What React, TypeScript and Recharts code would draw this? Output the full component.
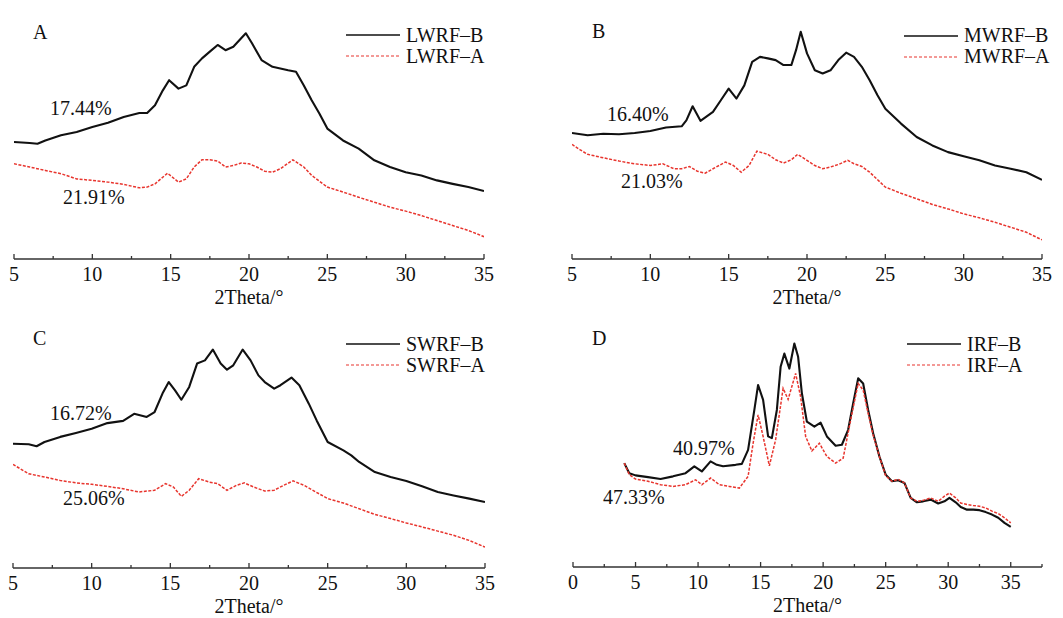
import { LineChart, Line, XAxis, YAxis, Legend } from "recharts"

// 2Theta (deg) vs relative intensity (0-100 of plot height)
const lwrfB = [[5,47.2],[6,46.8],[6.5,46.5],[7,47.8],[8,49.9],[9,51.2],[10,53.2],[11,54.9],[12,57.3],[13,58.9],[13.5,58.9],[14,62],[14.5,68],[14.9,72.1],[15.5,68.7],[16,70],[16.5,77.5],[17,80.9],[17.5,83.6],[18,86.3],[18.5,84.2],[19,85.6],[19.5,89],[19.8,91],[20.2,86.9],[20.8,80.2],[21.5,77.5],[22.5,76.1],[23,75.5],[23.5,70],[24,64],[24.5,58.6],[25,52.6],[26,47.8],[27,44.5],[28,39.8],[29,37.1],[30,35],[31,33.7],[32,31.7],[33,30.3],[34,29],[35,27.4]]
const lwrfA = [[5,38.4],[6,37.1],[7,35.7],[8,34.4],[9,32.3],[10,31.7],[11,31],[12,30.1],[13,28.7],[13.5,29],[14,30.3],[14.8,34.6],[15.5,31],[16,32.3],[16.5,37.1],[17,40],[17.5,40],[18,39.5],[18.5,37.1],[19,37.7],[19.5,38.7],[20,38.4],[20.5,37.1],[21,35.4],[21.5,35],[22,36.4],[22.8,40],[23.5,37.1],[24,33.7],[25,29],[26,27],[27,24.9],[28,22.9],[29,20.9],[30,19.3],[31,17.5],[32,15.5],[33,13.5],[34,11.5],[35,9]]

const mwrfB = [[5,50.8],[6,49.9],[7,50.5],[8,50.3],[9,50.8],[10,51.6],[11,53],[12,53.5],[12.3,55.9],[12.7,61.6],[13.2,55.7],[14,59.3],[14.5,64],[15,68.7],[15.5,64.7],[16,70],[16.5,79.5],[17,81.5],[17.5,80.9],[18,80.2],[18.5,78.2],[19,78.2],[19.3,84.2],[19.6,91.6],[20,82.9],[20.5,76.1],[21,74.8],[21.5,76.1],[22,80.2],[22.5,83.2],[23,81.5],[23.5,77.5],[24,72.1],[24.5,66],[25,60.6],[26,54.6],[27,49.2],[28,45.8],[29,43.1],[30,41.4],[31,39.8],[32,37.7],[33,36.4],[34,35],[35,31.9]]
const mwrfA = [[5,46.2],[5.5,44.1],[6,42.2],[7,40.8],[8,39.5],[9,38.4],[10,37.7],[10.8,38.4],[11.5,36.4],[12,36.4],[12.5,37.3],[13,35.4],[13.5,34.6],[14,36.4],[14.8,39.1],[15.3,37.7],[15.8,35],[16.3,37.7],[16.8,43.5],[17.5,42.2],[18,40],[18.5,38.7],[19,40],[19.4,42.2],[20,39.8],[20.5,37.7],[21,36.4],[21.5,37.1],[22,38.1],[22.6,39.8],[23,38.4],[23.5,37.3],[24,35],[25,29],[26,26.5],[27,24.3],[28,22],[29,20.2],[30,18.2],[31,16.6],[32,14.8],[33,12.8],[34,10.8],[35,7.7]]

const swrfB = [[5,50.5],[6,50.3],[6.5,49.5],[7,51.2],[8,53.3],[9,54.9],[10,56.6],[11,58.9],[12,59.8],[12.7,62.7],[13.5,61.4],[14,63.4],[14.5,70.9],[14.9,75.6],[15.3,72.2],[15.7,68.4],[16.2,73.6],[16.7,83.1],[17.2,84.4],[17.7,88.8],[18.2,83.1],[18.6,80.6],[19,82.4],[19.6,88.8],[20.1,84.4],[20.6,78.3],[21,75.6],[21.6,72.9],[22,74.3],[22.7,77.4],[23.2,74.3],[23.8,66.8],[24.3,60],[25,51.2],[26,47.8],[26.5,45.8],[27,43.1],[28,39],[29,37],[30,35.4],[31,33.2],[32,30.9],[33,29.5],[34,28.2],[35,26.8]]
const swrfA = [[5,42.1],[6,38.3],[7,37],[8,35.6],[9,34.6],[10,34],[11,33.2],[12,32.2],[13,30.9],[14,31.6],[14.7,34.3],[15.2,32.9],[15.7,29.1],[16.2,31.6],[16.8,36.3],[17.5,34.9],[18,34.3],[18.6,31.6],[19.2,33.6],[19.7,34.6],[20.3,32.9],[21,31.3],[21.6,31.6],[22.2,33.6],[22.8,35.4],[23.5,33.6],[24,31.8],[25,28.2],[26,26.4],[27,24.1],[28,21.8],[29,20.1],[30,18.3],[31,16.7],[32,15],[33,13.3],[34,11.2],[35,8.5]]

const irfB = [[4.1,42.4],[4.5,38.3],[5,37.4],[6,36.7],[7,35.9],[8,37],[9,38.3],[9.7,41.1],[10.3,39],[11,43.1],[11.5,41.7],[12,41.1],[13,41.7],[13.5,42.1],[14,47.8],[14.5,64.1],[14.8,74.3],[15.2,68.2],[15.6,53.3],[15.9,52.6],[16.3,64.1],[16.6,81.7],[16.9,87.1],[17.3,81],[17.7,91.2],[18,85.8],[18.3,70.9],[18.7,59.3],[19.3,57.3],[19.8,58.9],[20.3,53.3],[21,49.5],[21.5,49.9],[22,56],[22.4,66.8],[22.8,77],[23.2,74.9],[23.6,64.1],[24,54.6],[24.5,45.1],[25,37.7],[25.5,35],[26,35.4],[26.5,34.3],[27,28.2],[27.5,26.4],[28,26.8],[28.6,27.5],[29.2,25.9],[29.7,26.8],[30.1,28.2],[30.6,26.4],[31,24.5],[31.5,23.4],[32,23.4],[32.5,23.2],[33,22.4],[33.5,21.4],[34,20.1],[34.5,18],[35,16.4]]
const irfA = [[4.1,42.4],[4.5,37.7],[5,35.9],[6,35],[7,33.6],[8,32.9],[9,33.6],[9.8,35.6],[10.3,33.6],[11,36.3],[11.7,33.6],[12.5,32.9],[13.3,32.2],[14,37],[14.4,50.5],[14.8,62.1],[15.2,53.3],[15.7,41.3],[16.2,51.9],[16.8,72.9],[17.2,68.4],[17.8,79],[18.2,69.5],[18.6,53.3],[19.1,47.4],[19.7,50.5],[20.3,45.1],[21,42.4],[21.6,44.4],[22.2,60],[22.8,74.9],[23.2,72.2],[23.6,62.7],[24,53.8],[24.5,45.1],[25,37.3],[25.5,35],[26,35.8],[26.5,34.3],[27,28.2],[27.5,26.8],[28,27.2],[28.6,28.2],[29.2,26.8],[29.7,28.9],[30.1,30.2],[30.6,28.2],[31,26.1],[31.5,25.5],[32,25.1],[32.5,24.8],[33,24.1],[33.5,22.8],[34,21.8],[34.5,20.1],[35,18]]

const ticksFrom5 = [5, 7.5, 10, 12.5, 15, 17.5, 20, 22.5, 25, 27.5, 30, 32.5, 35]
const ticksFrom0 = [0, 2.5, 5, 7.5, 10, 12.5, 15, 17.5, 20, 22.5, 25, 27.5, 30, 32.5, 35, 37.5]

const FONT = "'Liberation Serif', 'Times New Roman', serif"
const AXIS = "#333"
const BLACK = "#111"
const RED = "#e8352e"

const toPoints = (arr: number[][]) => arr.map(([x, y]) => ({ x, y }))

const panels = [
  {
    key: "A", left: 0, top: 0, width: 530,
    margin: { top: 11, right: 46, bottom: 5, left: 14 },
    domain: [5, 35], ticks: ticksFrom5,
    names: ["LWRF–B", "LWRF–A"], series: [lwrfB, lwrfA],
    legend: { left: 346, top: 24.5 },
    notes: [["A", 33, 32], ["17.44%", 50, 108], ["21.91%", 63, 197]],
  },
  {
    key: "B", left: 530, top: 0, width: 533,
    margin: { top: 11, right: 21, bottom: 5, left: 42 },
    domain: [5, 35], ticks: ticksFrom5,
    names: ["MWRF–B", "MWRF–A"], series: [mwrfB, mwrfA],
    legend: { left: 374, top: 25 },
    notes: [["B", 62, 31], ["16.40%", 77, 114], ["21.03%", 91, 181]],
  },
  {
    key: "C", left: 0, top: 309, width: 530,
    margin: { top: 13, right: 45, bottom: 5, left: 13 },
    domain: [5, 35], ticks: ticksFrom5,
    names: ["SWRF–B", "SWRF–A"], series: [swrfB, swrfA],
    legend: { left: 346, top: 24.5 },
    notes: [["C", 33, 29], ["16.72%", 50, 104], ["25.06%", 63, 189]],
  },
  {
    key: "D", left: 530, top: 309, width: 533,
    margin: { top: 13, right: 21, bottom: 6, left: 43 },
    domain: [0, 37.5], ticks: ticksFrom0,
    names: ["IRF–B", "IRF–A"], series: [irfB, irfA],
    legend: { left: 377, top: 24.5 },
    notes: [["D", 62, 29], ["40.97%", 143, 139], ["47.33%", 73, 188]],
  },
]

function XTick(props: any) {
  const { x, y, payload } = props
  const major = payload.value % 5 === 0
  return (
    <g>
      <line x1={x} x2={x} y1={y} y2={y - (major ? 5 : 3)} stroke={AXIS} strokeWidth={1.3} />
      {major && (
        <text x={x} y={y + 22} textAnchor="middle" fontFamily={FONT} fontSize={20} fill={BLACK}>
          {payload.value}
        </text>
      )}
    </g>
  )
}

function LegendBox({ names }: { names: string[] }) {
  return (
    <div style={{ fontFamily: FONT, fontSize: 20, color: BLACK }}>
      {names.map((n, i) => (
        <div key={n} style={{ display: "flex", alignItems: "center", height: 21 }}>
          <svg width={54} height={4}>
            <line
              x1={0} x2={54} y1={2} y2={2}
              stroke={i === 0 ? BLACK : RED}
              strokeWidth={i === 0 ? 1.4 : 1.2}
              strokeDasharray={i === 0 ? undefined : "3 2"}
            />
          </svg>
          <span style={{ marginLeft: 6, lineHeight: "21px" }}>{n}</span>
        </div>
      ))}
    </div>
  )
}

function Panel({ p }: { p: (typeof panels)[number] }) {
  return (
    <div style={{ position: "absolute", left: p.left, top: p.top, width: p.width, height: 309 }}>
      <LineChart width={p.width} height={309} margin={p.margin}>
        <XAxis
          type="number"
          dataKey="x"
          domain={p.domain}
          ticks={p.ticks}
          interval={0}
          allowDataOverflow
          tickSize={0}
          tickMargin={0}
          tickLine={false}
          tick={<XTick />}
          height={45}
          axisLine={{ stroke: AXIS, strokeWidth: 1.5 }}
          label={{ value: "2Theta/°", position: "insideBottom", offset: 0, fontFamily: FONT, fontSize: 20, fill: BLACK }}
        />
        <YAxis
          type="number"
          domain={[0, 100]}
          width={0}
          tick={false}
          tickLine={false}
          axisLine={{ stroke: AXIS, strokeWidth: 1.5 }}
        />
        <Legend
          layout="vertical"
          align="center"
          verticalAlign="middle"
          wrapperStyle={{ left: p.legend.left, top: p.legend.top, width: "auto" }}
          content={() => <LegendBox names={p.names} />}
        />
        <Line
          data={toPoints(p.series[0])}
          dataKey="y"
          name={p.names[0]}
          type="linear"
          stroke={BLACK}
          strokeWidth={2.1}
          strokeLinejoin="round"
          dot={false}
          isAnimationActive={false}
        />
        <Line
          data={toPoints(p.series[1])}
          dataKey="y"
          name={p.names[1]}
          type="linear"
          stroke={RED}
          strokeWidth={1.5}
          strokeDasharray="3 1.5"
          dot={false}
          isAnimationActive={false}
        />
      </LineChart>
      {p.notes.map(([text, x, cy]) => (
        <div
          key={text as string}
          style={{
            position: "absolute",
            left: x as number,
            top: (cy as number) - 10,
            fontFamily: FONT,
            fontSize: 20,
            lineHeight: "20px",
            color: BLACK,
            whiteSpace: "nowrap",
            pointerEvents: "none",
          }}
        >
          {text}
        </div>
      ))}
    </div>
  )
}

export default function App() {
  return (
    <div style={{ position: "absolute", left: 0, top: 0, width: 1063, height: 618, background: "#fff" }}>
      {panels.map((p) => (
        <Panel key={p.key} p={p} />
      ))}
    </div>
  )
}
